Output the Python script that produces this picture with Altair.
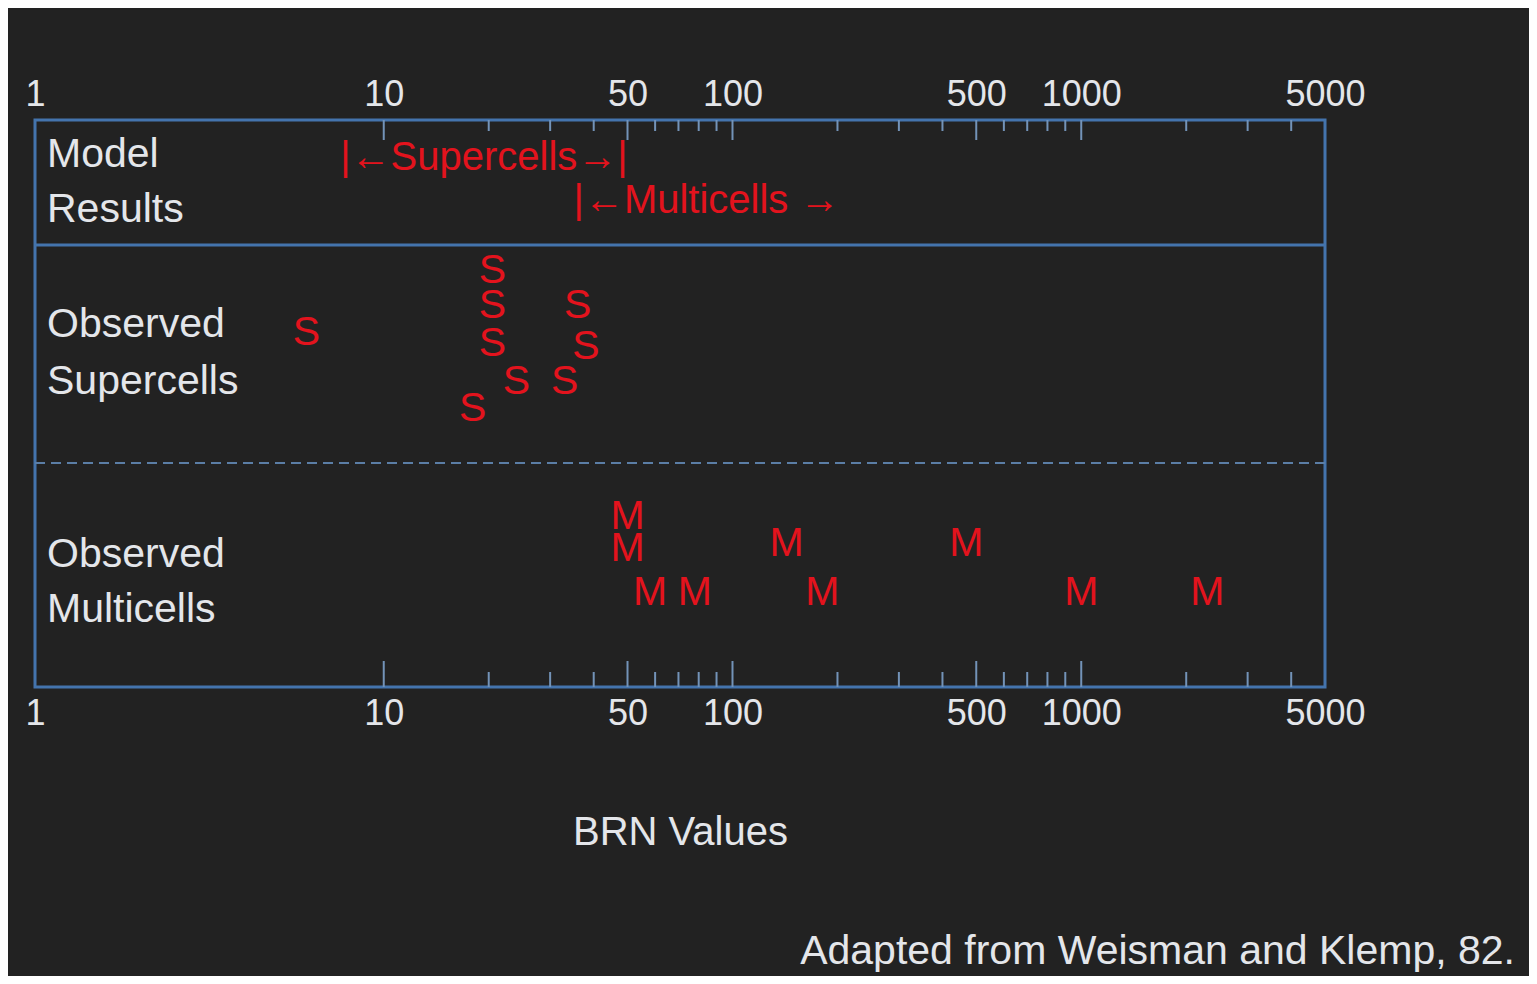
import altair as alt
import pandas as pd

# ---------------- data ----------------
tick_labels = [1, 10, 50, 100, 500, 1000, 5000]
major_ticks = [10, 50, 100, 500, 1000]
minor_ticks = [20, 30, 40, 60, 70, 80, 90, 200, 300, 400,
               600, 700, 800, 900, 2000, 3000, 4000]

# observed supercells: BRN value and vertical stacking level
super_brn = [6, 18, 20.5, 20.5, 20.5, 24, 33, 36, 38]
super_stack = [13.1, 10.3, 15.4, 14.1, 12.7, 11.3, 11.3, 14.1, 12.6]

# observed multicells: BRN value and vertical stacking level
multi_brn = [50, 50, 58, 78, 143, 181, 468, 1000, 2300]
multi_stack = [6.3, 5.1, 3.5, 3.5, 5.3, 3.5, 5.3, 3.5, 3.5]

# model results ranges (start BRN of each label)
model_text = ["|\u2190Supercells\u2192|", "|\u2190Multicells \u2192"]
model_start = [7.5, 35]
model_row = [19.6, 18.0]

row_labels = ["Model", "Results", "Observed", "Supercells", "Observed", "Multicells"]
row_label_row = [19.7, 17.65, 13.4, 11.3, 4.9, 2.85]

solid_sep = [16.37]
dashed_sep = [8.3]

# ---------------- styling ----------------
W, H = 1290, 567
FONT = "Liberation Sans"
BG = "#222222"
LBL = "#e4e6ea"
RED = "#e3131d"
BOX = "#4474ad"
TICK = "#7393b8"

xscale = alt.Scale(type="log", domain=[1, 5000], nice=False)
yscale = alt.Scale(domain=[0, 21], nice=False, zero=False)

obs = pd.DataFrame({
    "brn": super_brn + multi_brn,
    "row": super_stack + multi_stack,
    "sym": ["S"] * len(super_brn) + ["M"] * len(multi_brn),
})
model = pd.DataFrame({"brn": model_start, "row": model_row, "txt": model_text})
labels = pd.DataFrame({"row": row_label_row, "txt": row_labels})
major = pd.DataFrame({"v": major_ticks})
minor = pd.DataFrame({"v": minor_ticks})
solid = pd.DataFrame({"row": solid_sep})
dashed = pd.DataFrame({"row": dashed_sep})

axis_common = dict(values=tick_labels, format="d", ticks=False, domain=False, grid=False,
                   labelFont=FONT, labelFontSize=36, labelColor=LBL,
                   labelFlush=False, labelOverlap=False)

bottom_axis = alt.Axis(orient="bottom", labelPadding=9, title="BRN Values",
                       titleFont=FONT, titleFontSize=40, titleFontWeight="normal",
                       titleColor=LBL, titlePadding=81, **axis_common)
top_axis = alt.Axis(orient="top", labelPadding=7, title=None, **axis_common)

letters = alt.Chart(obs).mark_text(font=FONT, fontSize=41, color=RED, baseline="middle").encode(
    x=alt.X("brn:Q", scale=xscale, axis=bottom_axis),
    y=alt.Y("row:Q", scale=yscale, axis=None),
    text="sym:N",
)

top_major = alt.Chart(major).mark_rule(color=TICK, strokeWidth=2).encode(
    x=alt.X("v:Q", scale=xscale, axis=top_axis),
    y=alt.value(0), y2=alt.value(20),
)
top_minor = alt.Chart(minor).mark_rule(color=TICK, strokeWidth=2).encode(
    x=alt.X("v:Q", scale=xscale, axis=None),
    y=alt.value(0), y2=alt.value(11),
)
bot_major = alt.Chart(major).mark_rule(color=TICK, strokeWidth=2).encode(
    x=alt.X("v:Q", scale=xscale, axis=None),
    y=alt.value(H), y2=alt.value(H - 26),
)
bot_minor = alt.Chart(minor).mark_rule(color=TICK, strokeWidth=2).encode(
    x=alt.X("v:Q", scale=xscale, axis=None),
    y=alt.value(H), y2=alt.value(H - 15),
)

solid_rule = alt.Chart(solid).mark_rule(color=BOX, strokeWidth=3).encode(
    y=alt.Y("row:Q", scale=yscale, axis=None),
)
dashed_rule = alt.Chart(dashed).mark_rule(color="#5b7ea6", strokeWidth=2, strokeDash=[10, 6]).encode(
    y=alt.Y("row:Q", scale=yscale, axis=None),
)

model_txt = alt.Chart(model).mark_text(font=FONT, fontSize=40, color=RED, align="left",
                                       baseline="middle").encode(
    x=alt.X("brn:Q", scale=xscale, axis=None),
    y=alt.Y("row:Q", scale=yscale, axis=None),
    text="txt:N",
)

row_txt = alt.Chart(labels).mark_text(font=FONT, fontSize=41, color=LBL, align="left",
                                      baseline="middle", dx=12).encode(
    x=alt.value(0),
    y=alt.Y("row:Q", scale=yscale, axis=None),
    text="txt:N",
)

chart = alt.layer(
    solid_rule, dashed_rule, top_major, top_minor, bot_major, bot_minor,
    letters, model_txt, row_txt,
).resolve_axis(x="independent").properties(
    width=W, height=H,
    background=BG,
    autosize=alt.AutoSizeParams(type="none"),
    padding={"left": 27, "top": 112, "right": 204, "bottom": 289},
    title=alt.TitleParams("Adapted from Weisman and Klemp, 82.", orient="bottom",
                          anchor="end", frame="group", dx=190, offset=80,
                          font=FONT, fontSize=41, fontWeight="normal", color=LBL),
).configure_view(stroke=BOX, strokeWidth=3)

chart.save("out.html", embed_options={"renderer": "svg", "actions": False})
